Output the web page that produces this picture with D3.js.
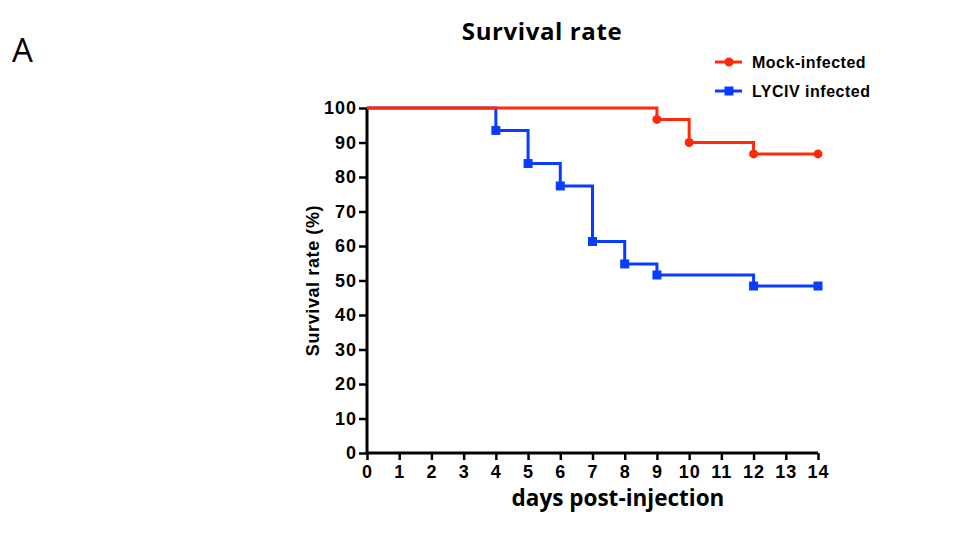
<!DOCTYPE html>
<html>
<head>
<meta charset="utf-8">
<script src="https://cdn.jsdelivr.net/npm/d3@7"></script>
<style>
  body { margin: 0; background: #fff; }
  svg { display: block; }
</style>
</head>
<body>
<script>
    // step data (day, survival %)
    var days = d3.range(0, 15);
    var yTicks = d3.range(0, 101, 10);
    var mockDays = [0, 9, 10, 12, 14];
    var mockRates = [100, 96.7, 90, 86.7, 86.7];
    var lycivDays = [0, 4, 5, 6, 7, 8, 9, 12, 14];
    var lycivRates = [100, 93.5, 83.9, 77.4, 61.3, 54.8, 51.6, 48.4, 48.4];
    var seriesNames = ['Mock-infected', 'LYCIV infected'];
    var seriesColors = ['#ff2a0a', '#0a3cff'];

    var width = 959, height = 543;
    var svg = d3.select('body').append('svg')
        .attr('width', width)
        .attr('height', height);

    var x = d3.scaleLinear().domain([0, 14]).range([367, 818]);
    var y = d3.scaleLinear().domain([0, 100]).range([453, 108]);

    svg.append('text')
        .attr('x', 12).attr('y', 62)
        .style('font-family', 'Open Sans, sans-serif')
        .style('font-size', '33px')
        .text('A');

    svg.append('text')
        .attr('x', 542).attr('y', 40)
        .attr('text-anchor', 'middle')
        .style('font-family', 'Open Sans, sans-serif')
        .style('font-weight', 'bold')
        .style('font-size', '24px')
        .style('letter-spacing', '0.6px')
        .text('Survival rate');

    var xAxis = svg.append('g')
        .attr('transform', 'translate(0,' + y(0) + ')')
        .call(d3.axisBottom(x).tickValues(days).tickSize(7).tickPadding(5).tickFormat(d3.format('d')));
    var yAxis = svg.append('g')
        .attr('transform', 'translate(' + x(0) + ',0)')
        .call(d3.axisLeft(y).tickValues(yTicks).tickSize(8).tickPadding(2).tickFormat(d3.format('d')));

    [xAxis, yAxis].forEach(function (g) {
        g.select('.domain').attr('stroke', '#000').attr('stroke-width', 3);
        g.selectAll('.tick line').attr('stroke', '#000').attr('stroke-width', 2.5);
        g.selectAll('.tick text')
            .attr('fill', '#000')
            .style('font-family', 'Liberation Sans, Arial, sans-serif')
            .style('font-weight', 'bold')
            .style('font-size', '18px')
            .style('letter-spacing', '1px');
    });
    // GraphPad style axes, no outer ticks
    xAxis.select('.domain').attr('d', 'M' + x(0) + ',0H' + x(14));
    yAxis.select('.domain').attr('d', 'M0,' + y(0) + 'V' + y(100));

    svg.append('text')
        .attr('transform', 'translate(319,' + y(50) + ') rotate(-90)')
        .attr('text-anchor', 'middle')
        .style('font-family', 'Liberation Sans, Arial, sans-serif')
        .style('font-weight', 'bold')
        .style('font-size', '18px')
        .style('letter-spacing', '0.6px')
        .text('Survival rate (%)');

    svg.append('text')
        .attr('x', 618).attr('y', 506)
        .attr('text-anchor', 'middle')
        .style('font-family', 'Open Sans, sans-serif')
        .style('font-weight', 'bold')
        .style('font-size', '22.5px')
        .text('days post-injection');

    var line = d3.line()
        .x(function (d) { return x(d[0]); })
        .y(function (d) { return y(d[1]); })
        .curve(d3.curveStepAfter);

    var series = [
        d3.zip(lycivDays, lycivRates),
        d3.zip(mockDays, mockRates)
    ];
    var colorsDrawn = [seriesColors[1], seriesColors[0]];

    series.forEach(function (pts, i) {
        svg.append('path')
            .datum(pts)
            .attr('fill', 'none')
            .attr('stroke', colorsDrawn[i])
            .attr('stroke-width', 3)
            .attr('d', line);
    });

    // markers, skip the day-0 start point
    svg.selectAll('rect.lyc')
        .data(series[0].slice(1))
        .enter().append('rect')
        .attr('class', 'lyc')
        .attr('x', function (d) { return x(d[0]) - 4.5; })
        .attr('y', function (d) { return y(d[1]) - 4.5; })
        .attr('width', 9).attr('height', 9)
        .attr('fill', seriesColors[1]);

    svg.selectAll('circle.mock')
        .data(series[1].slice(1))
        .enter().append('circle')
        .attr('class', 'mock')
        .attr('cx', function (d) { return x(d[0]); })
        .attr('cy', function (d) { return y(d[1]); })
        .attr('r', 4.5)
        .attr('fill', seriesColors[0]);

    // legend
    var legend = svg.append('g');
    seriesNames.forEach(function (name, i) {
        var ly = 62 + i * 29;
        legend.append('line')
            .attr('x1', 715).attr('x2', 742)
            .attr('y1', ly).attr('y2', ly)
            .attr('stroke', seriesColors[i]).attr('stroke-width', 3);
        if (i === 0) {
            legend.append('circle').attr('cx', 729).attr('cy', ly).attr('r', 4.5).attr('fill', seriesColors[i]);
        } else {
            legend.append('rect').attr('x', 724.5).attr('y', ly - 4.5).attr('width', 9).attr('height', 9).attr('fill', seriesColors[i]);
        }
        legend.append('text')
            .attr('x', 752).attr('y', ly + 5.5)
            .style('font-family', 'Liberation Sans, Arial, sans-serif')
            .style('font-weight', 'bold')
            .style('font-size', '16px')
            .style('letter-spacing', '0.5px')
            .text(name);
    });
</script>
</body>
</html>
